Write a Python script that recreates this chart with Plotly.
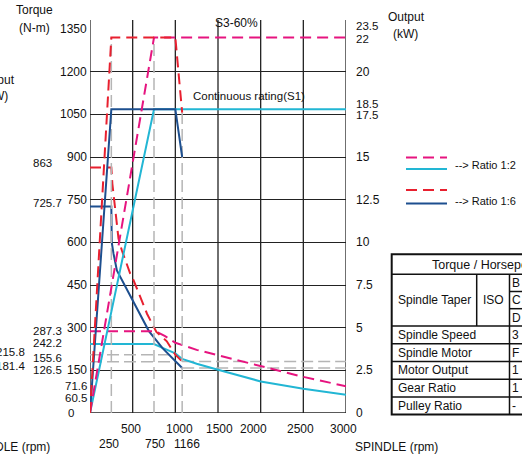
import plotly.graph_objects as go

# ---------------- data ----------------
# Power curves (kW, right axis)
rpm_r12_s3_power = [0, 750, 3000]
kw_r12_s3_power = [0, 22, 22]
rpm_r12_s1_power = [0, 750, 3000]
kw_r12_s1_power = [0, 17.8, 17.8]
rpm_r16_s3_power = [0, 250, 1000, 1080]
kw_r16_s3_power = [0, 22, 22, 17.6]
rpm_r16_s1_power = [0, 250, 1000, 1080]
kw_r16_s1_power = [0, 17.8, 17.8, 15.0]

# Torque curves (N-m, left axis)
rpm_r12_s3_torque = [0, 770, 880, 1000, 1250, 1500, 2000, 2500, 3000]
nm_r12_s3_torque = [287.3, 287.3, 270, 247, 222, 203, 166, 127, 94]
rpm_r12_s1_torque = [0, 750, 850, 1000, 1080, 1250, 1500, 2000, 2500, 3000]
nm_r12_s1_torque = [242.2, 242.2, 229, 210, 190, 173, 152, 111, 85.5, 64.4]
rpm_r16_s3_torque = [0, 250, 262, 300, 334, 373, 412, 471, 510, 609, 668, 778, 900, 1000, 1080]
nm_r16_s3_torque = [863, 863, 806, 700, 613, 572, 536, 490, 467, 395, 349, 285, 252, 205, 181]
rpm_r16_s1_torque = [0, 250, 255, 275, 315, 400, 510, 690, 850, 1000, 1080]
nm_r16_s1_torque = [725.7, 725.7, 600, 561, 501, 452, 393, 288, 228, 180, 158]

# Tick labels
torque_ticks = [150, 300, 450, 600, 750, 900, 1050, 1200, 1350]
torque_marks = ["863", "725.7", "287.3", "242.2", "155.6", "126.5", "71.6", "60.5", "0"]
torque_marks_far = ["215.8", "181.4"]
power_ticks = ["0", "2.5", "5", "7.5", "10", "12.5", "15", "17.5", "18.5", "20", "22", "23.5"]
speed_ticks_row1 = ["500", "1000", "1500", "2000", "2500", "3000"]
speed_ticks_row2 = ["250", "750", "1166"]

table_rows = ["Spindle Speed", "Spindle Motor", "Motor Output", "Gear Ratio", "Pulley Ratio"]
table_row_values = ["3", "F", "1", "1", "-"]
taper_values = ["B", "C", "D"]

# ---------------- styles ----------------
MAGENTA = "#e6147f"
CYAN = "#22b6d4"
RED = "#e8202f"
BLUE = "#1d4f8f"
GRAY = "#b5b5b5"
GRID = "#222222"
TXT = "#111111"
FONT = "Liberation Sans, Arial, sans-serif"
DASH_C = "11px,6px"
DASH_G = "12px,5px"

W, H = 522, 459
ML, MR, MT, MB = 90, 176, 29, 46
PW, PH = W - ML - MR, H - MT - MB


def px(x):
    return (x - ML) / PW


def py(y):
    return (H - MB - y) / PH


fig = go.Figure()

# gray reference lines (derived from curve values)
i1000_s3 = rpm_r16_s3_torque.index(1000)
i1000_s1 = rpm_r16_s1_torque.index(1000)
end_rpm = rpm_r16_s3_torque[-1]
ref_h = [
    ([0, 1000], [nm_r16_s3_torque[i1000_s3]] * 2),
    ([0, 1000], [nm_r16_s1_torque[i1000_s1]] * 2),
    ([end_rpm, 3000], [nm_r16_s3_torque[-1]] * 2),
    ([end_rpm, 3000], [nm_r16_s1_torque[-1]] * 2),
]
for xs, ys in ref_h:
    fig.add_trace(go.Scatter(x=xs, y=ys, mode="lines", yaxis="y",
                             line=dict(color=GRAY, width=1.5, dash=DASH_G),
                             hoverinfo="skip", showlegend=False))
ref_v = [
    (rpm_r16_s3_power[1], kw_r16_s3_power[1]),
    (rpm_r12_s3_power[1], kw_r12_s3_power[1]),
    (rpm_r16_s3_power[-1], kw_r16_s3_power[-1]),
]
for xv, top in ref_v:
    fig.add_trace(go.Scatter(x=[xv, xv], y=[0, top], mode="lines", yaxis="y2",
                             line=dict(color=GRAY, width=1.5, dash=DASH_G),
                             hoverinfo="skip", showlegend=False))

# torque curves
fig.add_trace(go.Scatter(x=rpm_r12_s1_torque, y=nm_r12_s1_torque, mode="lines", yaxis="y",
                         line=dict(color=CYAN, width=2), showlegend=False))
fig.add_trace(go.Scatter(x=rpm_r16_s1_torque, y=nm_r16_s1_torque, mode="lines", yaxis="y",
                         line=dict(color=BLUE, width=2), showlegend=False))
fig.add_trace(go.Scatter(x=rpm_r12_s3_torque, y=nm_r12_s3_torque, mode="lines", yaxis="y",
                         line=dict(color=MAGENTA, width=2, dash=DASH_C), showlegend=False))
fig.add_trace(go.Scatter(x=rpm_r16_s3_torque, y=nm_r16_s3_torque, mode="lines", yaxis="y",
                         line=dict(color=RED, width=2, dash=DASH_C), showlegend=False))
# power curves
fig.add_trace(go.Scatter(x=rpm_r12_s1_power, y=kw_r12_s1_power, mode="lines", yaxis="y2",
                         line=dict(color=CYAN, width=2), showlegend=False))
fig.add_trace(go.Scatter(x=rpm_r16_s1_power, y=kw_r16_s1_power, mode="lines", yaxis="y2",
                         line=dict(color=BLUE, width=2), showlegend=False))
fig.add_trace(go.Scatter(x=rpm_r12_s3_power, y=kw_r12_s3_power, mode="lines", yaxis="y2",
                         line=dict(color=MAGENTA, width=2, dash=DASH_C), showlegend=False))
fig.add_trace(go.Scatter(x=rpm_r16_s3_power, y=kw_r16_s3_power, mode="lines", yaxis="y2",
                         line=dict(color=RED, width=2, dash=DASH_C), showlegend=False))

shapes = []
# vertical grid lines (extend a little above the top)
for v in [0, 500, 1000, 1500, 2000, 2500, 3000]:
    shapes.append(dict(type="line", xref="x", yref="paper", x0=v, x1=v, y0=0, y1=1 + 9 / PH,
                       line=dict(color=GRID, width=1.3), layer="below"))
shapes.append(dict(type="line", xref="paper", yref="y", x0=0, x1=1, y0=0, y1=0,
                   line=dict(color=GRID, width=1.3), layer="below"))

# legend
leg = [(157.5, MAGENTA, DASH_C), (169, CYAN, "solid"), (190, RED, DASH_C), (203.5, BLUE, "solid")]
for yy, col, dsh in leg:
    shapes.append(dict(type="line", xref="paper", yref="paper", x0=px(406), x1=px(447),
                       y0=py(yy), y1=py(yy), line=dict(color=col, width=2, dash=dsh)))

# table
TL, TR, TT, TB = 391.7, 540, 254.3, 414.5
shapes.append(dict(type="rect", xref="paper", yref="paper", x0=px(TL), x1=px(TR), y0=py(TB), y1=py(TT),
                   line=dict(color="#111", width=2)))
row_lines = [274.3, 326, 343.8, 361.5, 379.2, 397]
for yy in row_lines:
    shapes.append(dict(type="line", xref="paper", yref="paper", x0=px(TL), x1=px(TR), y0=py(yy), y1=py(yy),
                       line=dict(color="#111", width=1.5)))
for yy in [291.5, 308.7]:
    shapes.append(dict(type="line", xref="paper", yref="paper", x0=px(509.5), x1=px(TR), y0=py(yy), y1=py(yy),
                       line=dict(color="#111", width=1.5)))
shapes.append(dict(type="line", xref="paper", yref="paper", x0=px(476.7), x1=px(476.7), y0=py(326), y1=py(274.3),
                   line=dict(color="#111", width=1.5)))
shapes.append(dict(type="line", xref="paper", yref="paper", x0=px(509.5), x1=px(509.5), y0=py(TB), y1=py(274.3),
                   line=dict(color="#111", width=1.5)))

ann = []


def text(t, x, y, anchor="center", size=12):
    ann.append(dict(text=t, xref="paper", yref="paper", x=px(x), y=py(y), xanchor=anchor,
                    yanchor="middle", showarrow=False, borderpad=0,
                    font=dict(size=size, family=FONT, color=TXT)))


# left main torque ticks
for v in torque_ticks:
    text(str(v), 88, MT + (1350 - v) / 1350 * PH, "right")
# secondary torque labels (positions nudged to avoid crowding, as in the drawing)
mark_pos = {"863": (53, 162.5), "725.7": (63, 203), "287.3": (63, 331), "242.2": (63, 342.5),
            "155.6": (63, 357.5), "126.5": (63, 370), "71.6": (88, 385.5), "60.5": (88, 397.5), "0": (75, 413)}
for t in torque_marks:
    x, y = mark_pos[t]
    text(t, x, y, "right", 11.5)
far_pos = {"215.8": (26, 352), "181.4": (26, 365.5)}
for t in torque_marks_far:
    x, y = far_pos[t]
    text(t, x, y, "right", 11.5)
# right power labels
p_pos = {"0": 413, "2.5": 370, "5": 327.5, "7.5": 285, "10": 242, "12.5": 199.5, "15": 157,
         "17.5": 115.5, "18.5": 104, "20": 71.5, "22": 38.8, "23.5": 25.5}
for t in power_ticks:
    text(t, 355, p_pos[t], "left", 11.5 if t in ("17.5", "18.5", "22", "23.5") else 12)
# speed labels
s1_pos = {"500": 130.5, "1000": 179.5, "1500": 219.5, "2000": 253.5, "2500": 300, "3000": 343.5}
for t in speed_ticks_row1:
    text(t, s1_pos[t], 428.5)
s2_pos = {"250": 109, "750": 154.5, "1166": 186.5}
for t in speed_ticks_row2:
    text(t, s2_pos[t], 443.5)

# axis titles
text("Torque", 34, 10)
text("(N-m)", 34, 28)
text("Output", 406, 17)
text("(kW)", 405, 33.5)
text("Output", 16, 80, "right")
text("(kW)", 9, 96, "right")
text("SPINDLE (rpm)", 51, 447, "right")
text("SPINDLE (rpm)", 354, 447, "left")
text("S3-60%", 236.5, 23, "center")
text("Continuous rating(S1)", 192, 96, "left", 11.5)
text("--> Ratio 1:2", 454, 164.5, "left", 11)
text("--> Ratio 1:6", 454, 200.5, "left", 11)

# table text
text("Torque / Horsepower", 431, 264.5, "left", 12.5)
text("Spindle Taper", 397, 300, "left", 12)
text("ISO", 482, 300, "left", 12)
for t, yy in zip(taper_values, [283, 300, 317.5]):
    text(t, 511, yy, "left", 12)
for t, v, yy in zip(table_rows, table_row_values, [335, 352.7, 370.3, 388, 405.7]):
    text(t, 397, yy, "left", 12)
    text(v, 511, yy, "left", 12)

fig.update_layout(
    width=W, height=H,
    margin=dict(l=ML, r=MR, t=MT, b=MB, pad=0),
    paper_bgcolor="white", plot_bgcolor="white",
    showlegend=False,
    xaxis=dict(range=[0, 3000], showgrid=False, zeroline=False, showticklabels=False,
               showline=False, ticks=""),
    yaxis=dict(range=[0, 1350], tickvals=[0] + torque_ticks, showgrid=True, gridcolor=GRID,
               gridwidth=1.3, zeroline=False, showticklabels=False, showline=False, ticks=""),
    yaxis2=dict(range=[0, 22.5], overlaying="y", side="right", showgrid=False, zeroline=False,
                showticklabels=False, showline=False, ticks=""),
    shapes=shapes,
    annotations=ann,
)

fig.write_html("out.html", config={"displayModeBar": False},
               post_script="document.body.style.margin='0';document.body.style.overflow='hidden';")
